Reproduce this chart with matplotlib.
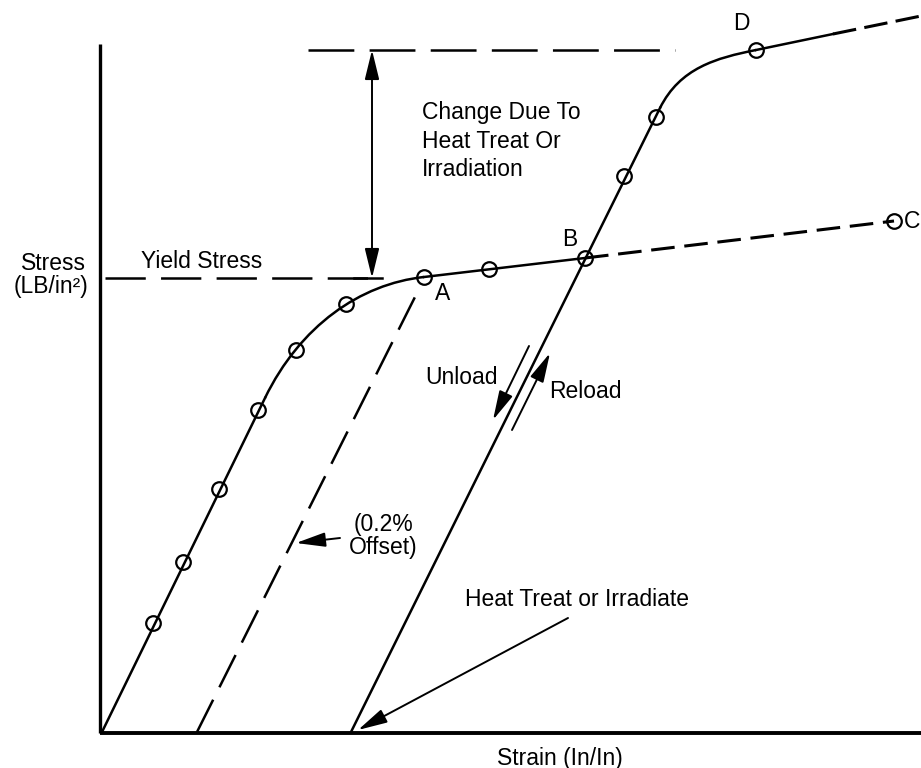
import matplotlib
matplotlib.use("Agg")
import matplotlib.pyplot as plt
from matplotlib.path import Path
from matplotlib.patches import PathPatch

plt.rcParams['font.family'] = ['Liberation Sans', 'DejaVu Sans']
plt.rcParams['lines.scale_dashes'] = False

# ---- data (strain, stress in arbitrary schematic units) ----
# original loading curve: elastic line, knee, plastic line O -> A -> B
elastic_strain = [0, 163]
elastic_stress = [0, 334]
knee1_strain = [163, 198, 258, 322]      # cubic bezier (start, ctrl, ctrl, end=A)
knee1_stress = [334, 406, 448, 455]
plastic_strain = [322, 483]              # A -> B
plastic_stress = [455, 474]
extrap_strain = [483, 792]               # B -> C (dashed)
extrap_stress = [474, 511]
orig_pts_strain = [51, 81, 117, 156, 194, 244, 322, 387, 483]
orig_pts_stress = [109, 170, 243, 322, 382, 428, 455, 463, 474]
c_pt_strain = [792]
c_pt_stress = [511]

# unload / reload after heat treat or irradiation
reload_strain = [249, 558]
reload_stress = [0, 624]
knee2_strain = [558, 578, 614, 654]      # cubic bezier to D
knee2_stress = [624, 664, 674, 682]
post_d_strain = [654, 731]
post_d_stress = [682, 698]
post_d_dash_strain = [731, 819]
post_d_dash_stress = [698, 716]
reload_pts_strain = [522, 554, 654]
reload_pts_stress = [556, 615, 682]

# 0.2% offset line
offset_strain = [95, 319]
offset_stress = [0, 447]

# reference levels
yield_stress = 454
yield_strain_range = [3, 280]
new_yield = 682
new_yield_strain_range = [206, 573]
change_arrow_strain = 270

fig = plt.figure(figsize=(9.21, 7.68), dpi=100)
ax = fig.add_axes([0, 0, 1, 1])
ax.set_xlim(-102, 819)
ax.set_ylim(-36, 732)
ax.axis('off')

lw = 1.8
# axes
ax.plot([-2, -2], [-1, 688], color='black', lw=2.4, solid_capstyle='butt')
ax.plot([-2, 830], [-1, -1], color='black', lw=2.8, solid_capstyle='butt')

# original curve
ax.plot(elastic_strain, elastic_stress, color='black', lw=lw)
p1 = Path(list(zip(knee1_strain, knee1_stress)),
          [Path.MOVETO, Path.CURVE4, Path.CURVE4, Path.CURVE4])
ax.add_patch(PathPatch(p1, fill=False, lw=lw, edgecolor='black'))
ax.plot(plastic_strain, plastic_stress, color='black', lw=lw)
ax.plot(extrap_strain, extrap_stress, color='black', lw=2.2, dashes=(17, 7))

# reload curve
ax.plot(reload_strain, reload_stress, color='black', lw=lw)
p2 = Path(list(zip(knee2_strain, knee2_stress)),
          [Path.MOVETO, Path.CURVE4, Path.CURVE4, Path.CURVE4])
ax.add_patch(PathPatch(p2, fill=False, lw=lw, edgecolor='black'))
ax.plot(post_d_strain, post_d_stress, color='black', lw=lw)
ax.plot(post_d_dash_strain, post_d_dash_stress, color='black', lw=2.2, dashes=(17, 6))

# offset line
ax.plot(offset_strain, offset_stress, color='black', lw=lw, dashes=(26, 10))

# yield levels
ax.plot(yield_strain_range, [yield_stress] * 2, color='black', lw=lw, dashes=(29, 11))
ax.plot([252, 280], [yield_stress] * 2, color='black', lw=lw)
ax.plot(new_yield_strain_range, [new_yield] * 2, color='black', lw=lw, dashes=(33, 11))

# markers
mk = dict(marker='o', ls='none', ms=10.5, mfc='none', mec='black', mew=1.6)
ax.plot(orig_pts_strain, orig_pts_stress, **mk)
ax.plot(c_pt_strain, c_pt_stress, **mk)
ax.plot(reload_pts_strain, reload_pts_stress, **mk)

# arrows
ah = dict(color='black', lw=1.4, shrinkA=0, shrinkB=0)
sty = '-|>,head_length=0.9,head_width=0.22'
ax.annotate('', xy=(change_arrow_strain, new_yield), xytext=(change_arrow_strain, yield_stress),
            arrowprops=dict(arrowstyle='<|-|>,head_length=0.9,head_width=0.22', mutation_scale=20, **ah))
ax.annotate('', xy=(194, 189), xytext=(238, 194),
            arrowprops=dict(arrowstyle=sty, mutation_scale=20, **ah))
ax.annotate('', xy=(256, 2), xytext=(466, 114),
            arrowprops=dict(arrowstyle=sty, mutation_scale=20, **ah))
ax.annotate('', xy=(391, 312), xytext=(427, 386),
            arrowprops=dict(arrowstyle=sty, mutation_scale=20, **ah))
ax.annotate('', xy=(448, 379), xytext=(410, 302),
            arrowprops=dict(arrowstyle=sty, mutation_scale=20, **ah))

fs = 16.5
ax.text(320, 591, 'Change Due To\nHeat Treat Or\nIrradiation', ha='left', va='center',
        fontsize=fs, linespacing=1.3)
ax.text(100, 471, 'Yield Stress', ha='center', va='center', fontsize=fs)
ax.text(-49, 468, 'Stress', ha='center', va='center', fontsize=fs)
ax.text(-51, 446, '(LB/in²)', ha='center', va='center', fontsize=fs)
ax.text(341, 438, 'A', ha='center', va='center', fontsize=fs)
ax.text(468, 493, 'B', ha='center', va='center', fontsize=fs)
ax.text(639, 709, 'D', ha='center', va='center', fontsize=fs)
ax.text(802, 511, 'C', ha='left', va='center', fontsize=fs)
ax.text(359, 355, 'Unload', ha='center', va='center', fontsize=fs)
ax.text(483, 340, 'Reload', ha='center', va='center', fontsize=fs)
ax.text(281, 196, '(0.2%\nOffset)', ha='center', va='center', fontsize=fs, linespacing=1.05)
ax.text(475, 132, 'Heat Treat or Irradiate', ha='center', va='center', fontsize=fs)
ax.text(458, -26, 'Strain (In/In)', ha='center', va='center', fontsize=fs)

fig.savefig('out.png', dpi=100)
